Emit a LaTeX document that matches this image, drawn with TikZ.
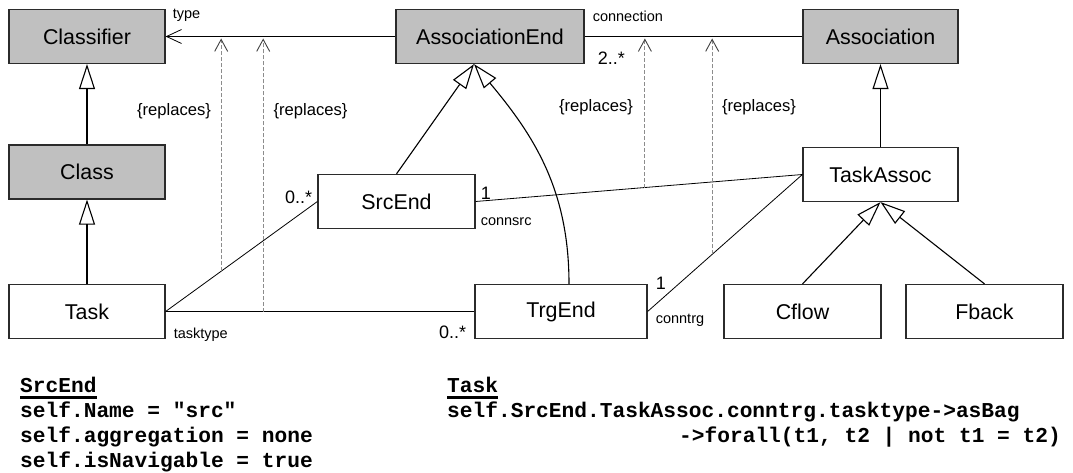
\documentclass[tikz,border=0pt]{standalone}
\usepackage{fontspec}
\setmainfont{Liberation Sans}
\setmonofont{Liberation Mono}
\usetikzlibrary{positioning,arrows.meta,calc}
\definecolor{BoxGray}{HTML}{C0C0C0}
\definecolor{Edge}{HTML}{2B2B2B}
\definecolor{Dash}{HTML}{8C8C8C}
\newcommand{\oclhead}[1]{\setbox0\hbox{#1}\rlap{\rule[-6.5pt]{\wd0}{3pt}}\box0}
\begin{document}
\begin{tikzpicture}[x=1pt,y=1pt,
  cls/.style={draw=Edge,line width=1.2pt,fill=white,minimum height=54pt,inner sep=0pt,font=\fontsize{21.4}{24}\selectfont},
  meta/.style={cls,fill=BoxGray},
  assoc/.style={black,line width=0.8pt},
  nav/.style={assoc,-{Straight Barb[length=15pt,width=14pt]}},
  gen/.style={black,line width=1.1pt,-{Triangle[open,length=25pt,width=16pt,line width=1.1pt]}},
  repl/.style={Dash,line width=0.9pt,dash pattern=on 4pt off 2pt,-{Straight Barb[length=12pt,width=13pt,color=black!75]}},
  lbl/.style={inner sep=0pt,font=\fontsize{14.5}{16}\selectfont},
  mult/.style={inner sep=0pt,font=\fontsize{18}{20}\selectfont},
  rtag/.style={inner sep=0pt,font=\fontsize{16.6}{19}\selectfont},
  ocl/.style={inner sep=0pt,anchor=base west,font=\ttfamily\bfseries\fontsize{21.2}{25}\selectfont}]
\useasboundingbox (0,0) rectangle (1073,472);

% metamodel classes
\node[meta,minimum width=156pt] (Classifier) at (87,435.5) {Classifier};
\node[meta,minimum width=188pt] (AssociationEnd) at (490,435.5) {AssociationEnd};
\node[meta,minimum width=155pt] (Association) at (880.5,435.5) {Association};
\node[meta,minimum width=156pt] (Class) at (87,300) {Class};

% profile classes
\node[cls,minimum width=157pt] (SrcEnd) at (396.5,270.5) {SrcEnd};
\node[cls,minimum width=155pt] (TaskAssoc) at (880.5,297.5) {TaskAssoc};
\node[cls,minimum width=156pt] (Task) at (87,160.5) {Task};
\node[cls,minimum width=172pt] (TrgEnd) at (561,160.5) {TrgEnd};
\node[cls,minimum width=157pt] (Cflow) at (802.5,160.5) {Cflow};
\node[cls,minimum width=157pt] (Fback) at (984.5,160.5) {Fback};

% associations
\draw[nav] (AssociationEnd.west) -- (Classifier.east);
\draw[assoc] (AssociationEnd.east) -- (Association.west);
\draw[assoc] (Task.east) -- coordinate[pos=0.366] (d1) (SrcEnd.west);
\draw[assoc] (Task.east) -- coordinate[pos=0.316] (d2) (TrgEnd.west);
\draw[assoc] (SrcEnd.east) -- coordinate[pos=0.518] (d3) (TaskAssoc.west);
\draw[assoc] (TrgEnd.east) -- coordinate[pos=0.417] (d4) (TaskAssoc.west);

% generalizations
\coordinate (aeb) at ([xshift=-16pt]AssociationEnd.south);
\draw[gen] (Class) -- (Classifier);
\draw[gen] (Task) -- (Class);
\draw[gen] (TaskAssoc) -- (Association);
\draw[gen] (Cflow.north) -- (TaskAssoc.south);
\draw[gen] (Fback.north) -- (TaskAssoc.south);
\draw[gen] (SrcEnd.north) -- (aeb);
\draw[gen] ([xshift=8pt]TrgEnd.north) to[out=90,in=-50] (aeb);

% replaces dependencies
\coordinate (u1) at (d1 |- Classifier.east);
\coordinate (u2) at (d2 |- Classifier.east);
\coordinate (u3) at (d3 |- Association.west);
\coordinate (u4) at (d4 |- Association.west);
\draw[repl] (d1) -- ([yshift=-2pt]u1);
\draw[repl] (d2) -- ([yshift=-2pt]u2);
\draw[repl] (d3) -- ([yshift=-2pt]u3);
\draw[repl] (d4) -- ([yshift=-2pt]u4);
\node[rtag] (rep1) at (174,361) {\{replaces\}};
\node[rtag] (rep2) at (310.5,361) {\{replaces\}};
\node[rtag] (rep3) at (596,365) {\{replaces\}};
\node[rtag] (rep4) at (759,365) {\{replaces\}};

% role names and multiplicities
\node[lbl,anchor=west] (typelbl) at ([xshift=7pt,yshift=21.5pt]Classifier.east) {type};
\node[lbl,anchor=west] (connlbl) at ([xshift=8pt,yshift=20.5pt]AssociationEnd.east) {connection};
\node[mult,anchor=west] (connmult) at ([xshift=13pt,yshift=-21.5pt]AssociationEnd.east) {2..*};
\node[mult,anchor=east] (srcmult) at ([xshift=-5pt,yshift=4.5pt]SrcEnd.west) {0..*};
\node[mult,anchor=west] (srcone) at ([xshift=5pt,yshift=8pt]SrcEnd.east) {1};
\node[lbl,anchor=west] (srcrole) at ([xshift=5pt,yshift=-20.5pt]SrcEnd.east) {connsrc};
\node[lbl,anchor=west] (taskrole) at ([xshift=8pt,yshift=-23.5pt]Task.east) {tasktype};
\node[mult,anchor=east] (trgmult) at ([xshift=-8pt,yshift=-20.5pt]TrgEnd.west) {0..*};
\node[mult,anchor=west] (trgone) at ([xshift=8pt,yshift=28.5pt]TrgEnd.east) {1};
\node[lbl,anchor=west] (trgrole) at ([xshift=8pt,yshift=-8.5pt]TrgEnd.east) {conntrg};

% OCL constraints
\node[ocl] (srchead) at (20,80) {\oclhead{SrcEnd}};
\node[ocl] (srcname) at (20,55) {self.Name = "src"};
\node[ocl] (srcagg) at (20,30) {self.aggregation = none};
\node[ocl] (srcnav) at (20,5) {self.isNavigable = true};
\node[ocl] (taskhead) at (447,80) {\oclhead{Task}};
\node[ocl] (taskbag) at (447,55) {self.SrcEnd.TaskAssoc.conntrg.tasktype->asBag};
\node[ocl] (taskall) at (679,30) {->forall(t1, t2 | not t1 = t2)};
\end{tikzpicture}
\end{document}
